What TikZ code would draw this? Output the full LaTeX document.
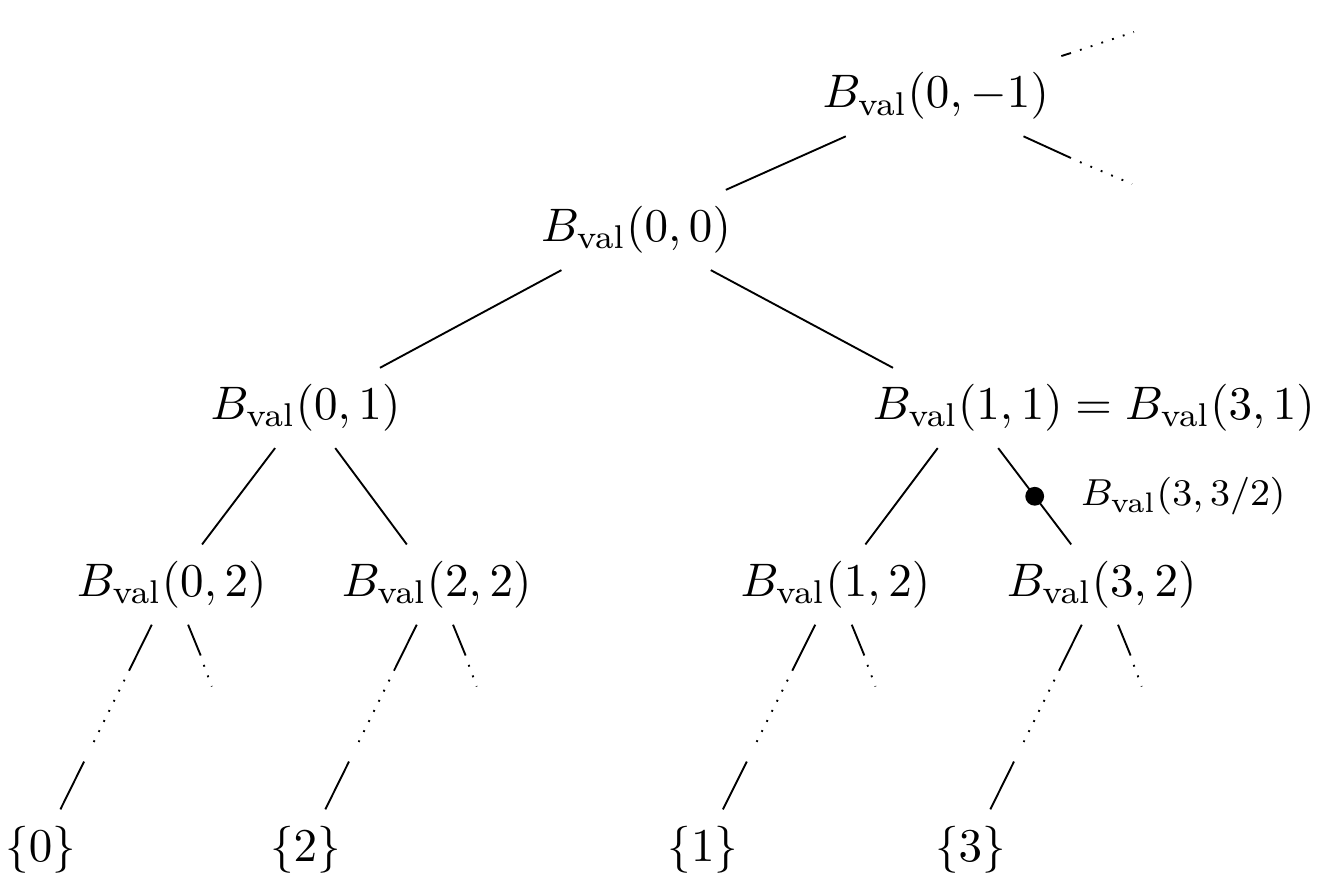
\documentclass[tikz,border=0pt]{standalone}
\usepackage{amsmath}
\usetikzlibrary{calc,positioning}
\newcommand{\Bv}[1]{B_{\mathrm{val}}(#1)}

\begin{document}
\begin{tikzpicture}[cont/.style={dotted},lbl/.style={font=\footnotesize}]
  \useasboundingbox (-4.753,-4.963) rectangle (5.172,1.719);
  % top part of the tree
  \node (b0m) at (2.24,1) {$\Bv{0,-1}$};
  \node (b00) at (0,0) {$\Bv{0,0}$};
  \node (b01) at (-2.47,-1.33) {$\Bv{0,1}$};
  \node (b11) at (2.48,-1.33) {$\Bv{1,1}$};
  \node[anchor=base west,inner xsep=0pt,xshift=-1pt] (b31) at (b11.base east) {$=\Bv{3,1}$};
  \node (b02) at (-3.47,-2.65) {$\Bv{0,2}$};
  \node (b22) at (-1.49,-2.65) {$\Bv{2,2}$};
  \node (b12) at (1.49,-2.65) {$\Bv{1,2}$};
  \node (b32) at (3.48,-2.65) {$\Bv{3,2}$};
  % leaves
  \node (s0) at (-4.45,-4.63) {$\{0\}$};
  \node (s2) at (-2.47,-4.63) {$\{2\}$};
  \node (s1) at (0.5,-4.63) {$\{1\}$};
  \node (s3) at (2.5,-4.63) {$\{3\}$};
  \draw (b0m)--(b00);
  \draw (b00)--(b01);
  \draw (b00)--(b11);
  \draw (b01)--(b02);
  \draw (b01)--(b22);
  \draw (b11)--(b12);
  \draw (b11)--(b32);
  % the tree goes on above b0m
  \coordinate (upa) at (3.251,1.323);
  \coordinate (upb) at (3.318,1.345);
  \coordinate (upc) at (3.722,1.480);
  \coordinate (dna) at (3.251,0.538);
  \coordinate (dnb) at (3.318,0.508);
  \coordinate (dnc) at (3.707,0.344);
  \draw (b0m)--(upa);
  \draw[cont] (upb)--(upc);
  \draw (b0m)--(dna);
  \draw[cont] (dnb)--(dnc);
  % paths down to the singletons
  \foreach \p/\s in {b02/s0,b22/s2,b12/s1,b32/s3}{
    \draw (\p)--($(\p)!0.325!(\s)$);
    \draw[cont] ($(\p)!0.359!(\s)$)--($(\p)!0.623!(\s)$);
    \draw ($(\p)!0.668!(\s)$)--(\s);
    \draw (\p)--($(\p)+(0.217,-0.53)$);
    \draw[cont] ($(\p)+(0.24,-0.60)$)--($(\p)+(0.30,-0.762)$);
  }
  % midpoint on the edge b11--b32
  \coordinate (mid) at ($(b11)!0.5!(b32)$);
  \fill (mid) circle (2pt);
  \node[lbl,right=2.2mm of mid] (mlbl) {$\Bv{3,3/2}$};
\end{tikzpicture}
\end{document}
